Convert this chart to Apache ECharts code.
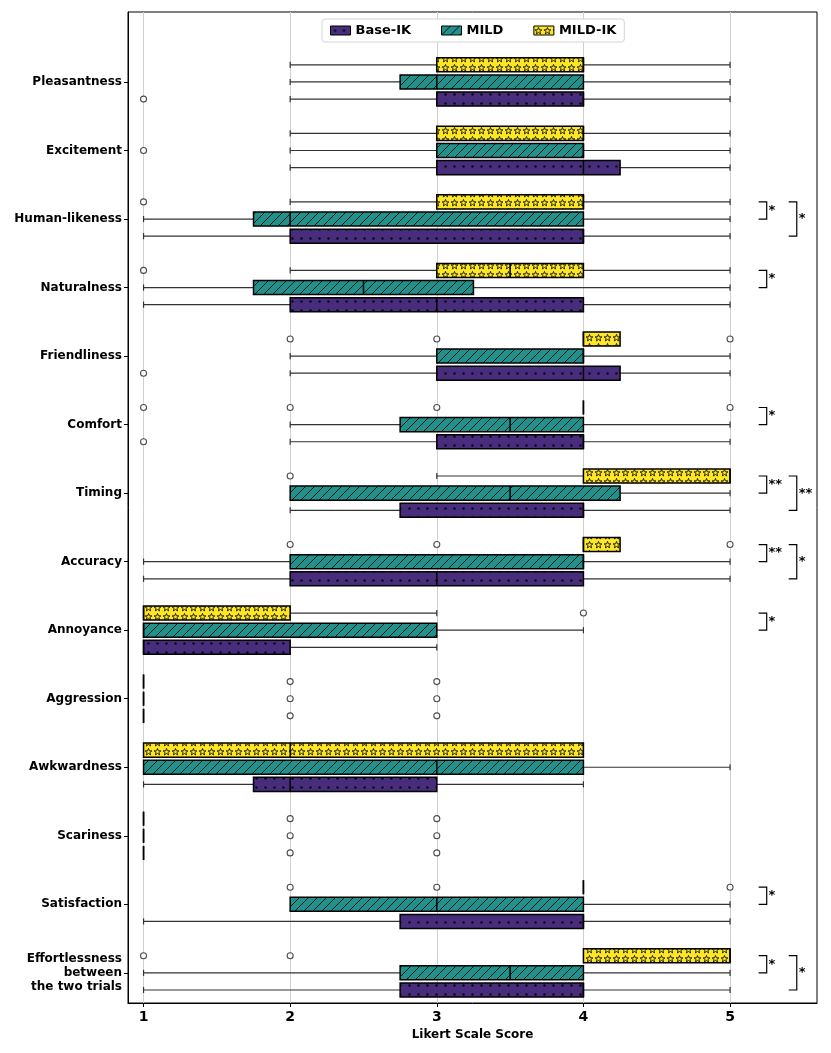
<!DOCTYPE html>
<html><head><meta charset="utf-8">
<script src="https://cdn.jsdelivr.net/npm/echarts@6/dist/echarts.min.js"></script>
<style>html,body{margin:0;padding:0;background:#fff}#chart{width:831px;height:1053px}</style>
</head><body><div id="chart"></div>
<script>
// ---------------- DATA ----------------
var categories = ['Pleasantness','Excitement','Human-likeness','Naturalness','Friendliness','Comfort','Timing','Accuracy','Annoyance','Aggression','Awkwardness','Scariness','Satisfaction','Effortlessness\nbetween\nthe two trials'];
// [whiskerLow, Q1, median, Q3, whiskerHigh] per category
var baseIK = [[2,3,4,4,5],[2,3,4,4.25,5],[1,2,4,4,5],[1,2,3,4,5],[2,3,4,4.25,5],[2,3,4,4,5],[2,2.75,4,4,5],[1,2,3,4,5],[1,1,1,2,3],[1,1,1,1,1],[1,1.75,2,3,4],[1,1,1,1,1],[1,2.75,4,4,5],[1,2.75,4,4,5]];
var mild = [[2,2.75,3,4,5],[2,3,4,4,5],[1,1.75,2,4,5],[1,1.75,2.5,3.25,5],[2,3,4,4,5],[2,2.75,3.5,4,5],[2,2,3.5,4.25,5],[1,2,4,4,5],[1,1,1,3,4],[1,1,1,1,1],[1,1,3,4,5],[1,1,1,1,1],[2,2,3,4,5],[1,2.75,3.5,4,5]];
var mildIK = [[2,3,4,4,5],[2,3,4,4,5],[2,3,4,4,5],[2,3,3.5,4,5],[4,4,4,4.25,4.25],[4,4,4,4,4],[3,4,5,5,5],[4,4,4,4.25,4.25],[1,1,1,2,3],[1,1,1,1,1],[1,1,2,4,4],[1,1,1,1,1],[4,4,4,4,4],[4,4,5,5,5]];
// outliers: [categoryIndex, score]
var baseIKOutliers = [[0,1],[4,1],[5,1],[9,2],[9,3],[11,2],[11,3]];
var mildOutliers = [[1,1],[9,2],[9,3],[11,2],[11,3]];
var mildIKOutliers = [[2,1],[3,1],[4,2],[4,3],[4,5],[5,1],[5,2],[5,3],[5,5],[6,2],[7,2],[7,3],[7,5],[8,4],[9,2],[9,3],[11,2],[11,3],[12,2],[12,3],[12,5],[13,1],[13,2]];
// significance: [categoryIndex, label]
var sigMildIKvsMild = [[2,'*'],[3,'*'],[5,'*'],[6,'**'],[7,'**'],[8,'*'],[12,'*'],[13,'*']];
var sigMildIKvsBaseIK = [[2,'*'],[6,'**'],[7,'*'],[13,'*']];
var xTickValues = [1,2,3,4,5];
var seriesNames = ['Base-IK','MILD','MILD-IK'];

// ---------------- STYLE ----------------
var PURPLE = '#472d7b', TEAL = '#21918c', YELLOW = '#fde725';
var FONT = 'DejaVu Sans';
var OFFSETS = {'Base-IK': 0.25, 'MILD': 0, 'MILD-IK': -0.25};
var BOX_H = 0.205, CAP_H = 0.09;

function makeCanvas(w, h, draw) {
  var c = document.createElement('canvas'); c.width = w; c.height = h;
  draw(c.getContext('2d')); return c;
}
var dotPat = {image: makeCanvas(9, 9, function (ctx) {
  ctx.fillStyle = PURPLE; ctx.fillRect(0, 0, 9, 9);
  ctx.fillStyle = '#080810'; ctx.beginPath(); ctx.arc(4.5, 4.5, 1.2, 0, Math.PI * 2); ctx.fill();
}), repeat: 'repeat'};
var hatchPat = {image: makeCanvas(9, 9, function (ctx) {
  ctx.fillStyle = TEAL; ctx.fillRect(0, 0, 9, 9);
  ctx.strokeStyle = '#111'; ctx.lineWidth = 1;
  ctx.beginPath();
  ctx.moveTo(0, 9); ctx.lineTo(9, 0);
  ctx.moveTo(-1, 1); ctx.lineTo(1, -1);
  ctx.moveTo(8, 10); ctx.lineTo(10, 8);
  ctx.stroke();
}), repeat: 'repeat'};
var starPat = {image: makeCanvas(9, 9, function (ctx) {
  ctx.fillStyle = YELLOW; ctx.fillRect(0, 0, 9, 9);
  ctx.strokeStyle = '#111'; ctx.lineWidth = 0.9;
  ctx.beginPath();
  for (var i = 0; i < 10; i++) {
    var r = i % 2 === 0 ? 3.6 : 1.5;
    var a = -Math.PI / 2 + i * Math.PI / 5;
    var px = 4.5 + r * Math.cos(a), py = 5 + r * Math.sin(a);
    if (i === 0) ctx.moveTo(px, py); else ctx.lineTo(px, py);
  }
  ctx.closePath(); ctx.stroke();
}), repeat: 'repeat'};
var PATTERNS = {'Base-IK': dotPat, 'MILD': hatchPat, 'MILD-IK': starPat};

function boxRender(name) {
  var offset = OFFSETS[name], pattern = PATTERNS[name];
  return function (params, api) {
    var cat = api.value(0);
    var lo = api.value(1), q1 = api.value(2), med = api.value(3), q3 = api.value(4), hi = api.value(5);
    var yc = cat + offset;
    var unit = Math.abs(api.size([0, 1])[1]);
    var half = BOX_H * unit / 2, capHalf = CAP_H * unit / 2;
    var pLo = api.coord([lo, yc]), pQ1 = api.coord([q1, yc]), pMed = api.coord([med, yc]);
    var pQ3 = api.coord([q3, yc]), pHi = api.coord([hi, yc]);
    var y = pQ1[1];
    var wStyle = {stroke: '#333', lineWidth: 1.2};
    var ch = [];
    if (lo < q1) {
      ch.push({type: 'line', shape: {x1: pLo[0], y1: y, x2: pQ1[0], y2: y}, style: wStyle});
      ch.push({type: 'line', shape: {x1: pLo[0], y1: y - capHalf, x2: pLo[0], y2: y + capHalf}, style: wStyle});
    }
    if (hi > q3) {
      ch.push({type: 'line', shape: {x1: pQ3[0], y1: y, x2: pHi[0], y2: y}, style: wStyle});
      ch.push({type: 'line', shape: {x1: pHi[0], y1: y - capHalf, x2: pHi[0], y2: y + capHalf}, style: wStyle});
    }
    ch.push({type: 'rect', shape: {x: pQ1[0], y: y - half, width: pQ3[0] - pQ1[0], height: 2 * half},
      style: {fill: pattern, stroke: '#000', lineWidth: 1.5}});
    ch.push({type: 'line', shape: {x1: pMed[0], y1: y - half, x2: pMed[0], y2: y + half},
      style: {stroke: '#000', lineWidth: 1.5}});
    return {type: 'group', children: ch};
  };
}

function boxData(arr) {
  return arr.map(function (d, i) { return [i, d[0], d[1], d[2], d[3], d[4]]; });
}
function outlierData(arr, name) {
  return arr.map(function (d) { return [d[1], d[0] + OFFSETS[name]]; });
}

// bracket geometry (x in score units)
var BR = {
  small: {arm: 5.195, bar: 5.25, text: 5.262, top: -0.25, bottom: 0},
  large: {arm: 5.40, bar: 5.455, text: 5.468, top: -0.25, bottom: 0.25}
};
function bracketRender(sig, geom) {
  return function (params, api) {
    var d = sig[params.dataIndex];
    var cat = d[0];
    var a = api.coord([geom.arm, cat + geom.top]);
    var b = api.coord([geom.bar, cat + geom.top]);
    var c = api.coord([geom.bar, cat + geom.bottom]);
    var e = api.coord([geom.arm, cat + geom.bottom]);
    var t = api.coord([geom.text, cat + (geom.top + geom.bottom) / 2]);
    return {type: 'group', children: [
      {type: 'polyline', shape: {points: [a, b, c, e]}, style: {stroke: '#000', lineWidth: 1.2, fill: null}},
      {type: 'text', x: t[0], y: t[1], style: {text: d[1], fill: '#000', font: 'bold 13px "DejaVu Sans"', textAlign: 'left', textVerticalAlign: 'middle'}}
    ]};
  };
}

var series = [];
series.push({
  type: 'scatter', name: 'gridlines', data: [], silent: true, z: 0,
  markLine: {
    silent: true, symbol: ['none', 'none'], animation: false, z: 0,
    label: {show: false},
    lineStyle: {color: '#d0d0d0', type: 'solid', width: 1},
    data: xTickValues.map(function (v) { return {xAxis: v}; })
  }
});
[['MILD-IK', mildIK], ['MILD', mild], ['Base-IK', baseIK]].forEach(function (p) {
  series.push({
    type: 'custom', name: p[0], renderItem: boxRender(p[0]), data: boxData(p[1]),
    encode: {y: 0, x: [1, 2, 3, 4, 5]}, itemStyle: {color: PATTERNS[p[0]]}, z: 10, clip: false
  });
});
[['MILD-IK', mildIKOutliers], ['MILD', mildOutliers], ['Base-IK', baseIKOutliers]].forEach(function (p) {
  series.push({
    type: 'scatter', name: p[0] + ' outliers', data: outlierData(p[1], p[0]),
    symbol: 'circle', symbolSize: 6, z: 11,
    itemStyle: {color: '#fff', borderColor: '#222', borderWidth: 1.1}
  });
});
series.push({type: 'custom', name: 'sig1', renderItem: bracketRender(sigMildIKvsMild, BR.small),
  data: sigMildIKvsMild.map(function (d) { return [BR.small.bar, d[0]]; }), z: 12, clip: false});
series.push({type: 'custom', name: 'sig2', renderItem: bracketRender(sigMildIKvsBaseIK, BR.large),
  data: sigMildIKvsBaseIK.map(function (d) { return [BR.large.bar, d[0]]; }), z: 12, clip: false});

var catIdx = categories.map(function (c, i) { return i; });
var chart = echarts.init(document.getElementById('chart'), null, {renderer: 'canvas'});
chart.setOption({
  animation: false,
  backgroundColor: '#fff',
  textStyle: {fontFamily: FONT},
  grid: {left: 128, top: 12, right: 14, bottom: 50, show: true, borderColor: '#000', borderWidth: 1, backgroundColor: 'transparent'},
  legend: {
    data: seriesNames.map(function (n) {
      return {name: n, icon: 'rect', itemStyle: {color: PATTERNS[n], borderColor: '#000', borderWidth: 1}};
    }),
    left: 322, top: 19, itemWidth: 20, itemHeight: 9, itemGap: 30, z: 20,
    padding: [5, 8], backgroundColor: '#fff', borderColor: '#d4d4d4', borderWidth: 1, borderRadius: 3,
    textStyle: {fontFamily: FONT, fontWeight: 'bold', fontSize: 13, color: '#000'},
    selectedMode: false
  },
  xAxis: {
    type: 'value', min: 0.894, max: 5.593,
    name: 'Likert Scale Score', nameLocation: 'middle', nameGap: 22,
    nameTextStyle: {fontFamily: FONT, fontWeight: 'bold', fontSize: 12, color: '#000'},
    axisLine: {show: true, onZero: false, lineStyle: {color: '#000', width: 1}},
    axisTick: {show: true, length: 4, customValues: xTickValues, lineStyle: {color: '#000'}},
    axisLabel: {customValues: xTickValues, margin: 7, fontFamily: FONT, fontWeight: 'bold', fontSize: 14, color: '#000'},
    splitLine: {show: false}
  },
  yAxis: {
    type: 'value', inverse: true, min: -1.021, max: 13.44,
    axisLine: {show: true, onZero: false, lineStyle: {color: '#000', width: 1}},
    axisTick: {show: true, length: 4, customValues: catIdx, lineStyle: {color: '#000'}},
    axisLabel: {
      customValues: catIdx,
      formatter: function (v) { return categories[Math.round(v)] || ''; },
      margin: 6, fontFamily: FONT, fontWeight: 'bold', fontSize: 12, color: '#000', lineHeight: 14, align: 'right'
    },
    splitLine: {show: false}
  },
  series: series
});
</script></body></html>
